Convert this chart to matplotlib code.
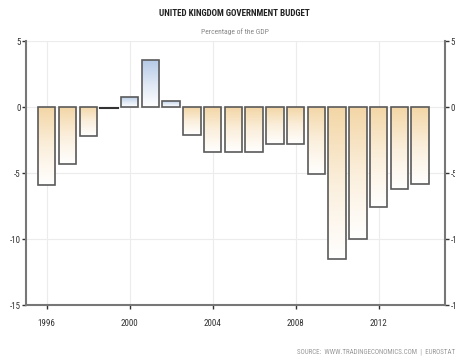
import matplotlib
matplotlib.use("Agg")
import matplotlib.pyplot as plt
import numpy as np
from matplotlib.colors import LinearSegmentedColormap
from matplotlib.patches import Rectangle
from matplotlib import font_manager

years = list(range(1996, 2015))
values = [-5.9, -4.3, -2.2, -0.1, 0.8, 3.6, 0.5, -2.1, -3.4, -3.4, -3.4,
          -2.8, -2.8, -5.1, -11.5, -10.0, -7.6, -6.2, -5.8]
yticks = [5, 0, -5, -10, -15]
xticks = [1996, 2000, 2004, 2008, 2012]

available = {f.name for f in font_manager.fontManager.ttflist}
narrow = None
for cand in ['Liberation Sans Narrow', 'Roboto Condensed', 'DejaVu Sans Condensed',
             'Open Sans Condensed', 'Noto Sans Condensed']:
    if cand in available:
        narrow = cand
        break
if narrow is None:
    narrow = 'DejaVu Sans'
    stretch = 'condensed'
else:
    stretch = 'normal'

plt.rcParams['font.family'] = [narrow, 'DejaVu Sans']
plt.rcParams['font.stretch'] = stretch

fig = plt.figure(figsize=(4.56, 3.61), dpi=100)
ax = fig.add_axes([0.057, 0.155, 0.919, 0.731])

neg_cmap = LinearSegmentedColormap.from_list("neg", ["#f3d6a6", "#fbefdc", "#ffffff"])
pos_cmap = LinearSegmentedColormap.from_list("pos", ["#b3c8e6", "#dde7f4", "#ffffff"])
grad = np.linspace(0, 1, 256).reshape(-1, 1)

width = 0.84
for yr, v in zip(years, values):
    x0 = yr - width / 2
    if abs(v) < 0.2:
        ax.plot([x0, x0 + width], [v, v], color="#333333", lw=1.5, zorder=4)
        continue
    rect = Rectangle((x0, min(0, v)), width, abs(v), facecolor="none",
                     edgecolor="#5a5a5a", lw=1.2, zorder=4)
    ax.add_patch(rect)
    cmap = neg_cmap if v < 0 else pos_cmap
    im = ax.imshow(grad, cmap=cmap, aspect="auto", origin="upper",
                   extent=[x0, x0 + width, min(0, v), max(0, v)], zorder=3)
    im.set_clip_path(rect)

ax.set_xlim(1995.0, 2015.2)
ax.set_ylim(-15, 5)

ax.set_yticks(yticks)
ax.set_yticklabels([str(t) for t in yticks])
ax.set_xticks(xticks)
ax.tick_params(axis='both', labelsize=6.5, colors="#333333", length=3, width=1)
ax.tick_params(axis='y', right=True, labelright=True, pad=1)
ax.tick_params(axis='x', pad=7)
ax.grid(True, color="#ececec", lw=0.8, zorder=0)
ax.set_axisbelow(True)
for s in ['left', 'right', 'bottom']:
    ax.spines[s].set_color("#777777")
    ax.spines[s].set_linewidth(1.5)
ax.spines['top'].set_visible(False)

fig.text(0.515, 0.962, "UNITED KINGDOM GOVERNMENT BUDGET", ha="center", va="center",
         fontsize=6.5, color="#222222", fontweight="bold")
fig.text(0.515, 0.912, "Percentage of the GDP", ha="center", va="center",
         fontsize=5.5, color="#888888")
fig.text(0.651, 0.025, "SOURCE:  WWW.TRADINGECONOMICS.COM  |  EUROSTAT", ha="left",
         va="center", fontsize=5, color="#999999")

fig.savefig("out.png", dpi=100)
